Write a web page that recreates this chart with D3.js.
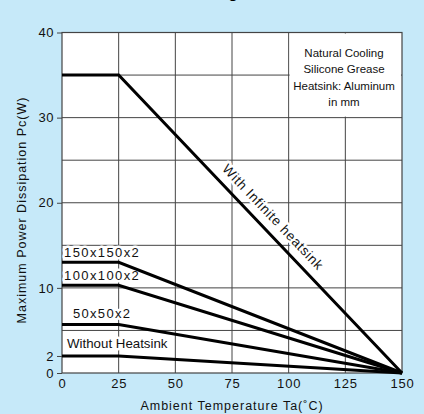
<!DOCTYPE html>
<html><head><meta charset="utf-8">
<script src="https://cdn.jsdelivr.net/npm/d3@7"></script>
<style>body{margin:0;background:#c6e9f9;} svg{display:block;font-family:"Liberation Sans",Arial,sans-serif;}</style>
</head><body><svg id="c" width="424" height="414"></svg>
<script>
const xTicks = [0,25,50,75,100,125,150];
const yTickLabels = [0,2,10,20,30,40];
const yGrid = [5,10,15,20,25,30,35];
const seriesNames = ["With Infinite heatsink","150x150x2","100x100x2","50x50x2","Without Heatsink"];
const seriesTemps = [0,25,150];
const infiniteVals = [35,35,0];
const hs150Vals = [13,13,0];
const hs100Vals = [10.3,10.3,0];
const hs50Vals = [5.7,5.7,0];
const noneVals = [2,2,0];
const noteLines = ["Natural Cooling","Silicone Grease","Heatsink: Aluminum","in mm"];

const svg = d3.select("#c");
const x = d3.scaleLinear().domain([0,150]).range([62,402]);
const y = d3.scaleLinear().domain([0,40]).range([373,32.5]);

svg.append("text").attr("x",238).attr("y",-2).attr("text-anchor","end")
  .attr("font-weight","bold").attr("font-size",16).text("Pc-Ta Derating");

svg.append("rect").attr("x",x(0)).attr("y",y(40)).attr("width",x(150)-x(0)).attr("height",y(0)-y(40)).attr("fill","#fff");

const grid = svg.append("g").attr("stroke","#444").attr("stroke-width",1);
xTicks.slice(1,-1).forEach(t=>grid.append("line").attr("x1",x(t)).attr("x2",x(t)).attr("y1",y(0)).attr("y2",y(40)));
yGrid.forEach(t=>grid.append("line").attr("x1",x(0)).attr("x2",x(150)).attr("y1",y(t)).attr("y2",y(t)));

// note box covering grid
svg.append("rect").attr("x",x(100)+1).attr("y",y(40)+1).attr("width",x(150)-x(100)-2).attr("height",y(30)-y(40)-2).attr("fill","#fff");
svg.append("g").selectAll("text").data(noteLines).join("text")
  .attr("x",344).attr("y",(d,i)=>57+i*16.3).attr("text-anchor","middle").attr("font-size",11.5).attr("fill","#111").text(d=>d);

svg.append("rect").attr("x",x(0)).attr("y",y(40)).attr("width",x(150)-x(0)).attr("height",y(0)-y(40)).attr("fill","none").attr("stroke","#444").attr("stroke-width",1.2);

// labels with white halo
function label(txt,px,py,opts={}){
  const t = svg.append("text").attr("x",px).attr("y",py).attr("font-size",opts.fs||13)
   .attr("letter-spacing",opts.ls||0).attr("fill","#111").text(txt)
   .attr("stroke","#fff").attr("stroke-width",5).attr("paint-order","stroke").attr("stroke-linejoin","round");
  if(opts.rot!==undefined) t.attr("transform",`rotate(${opts.rot},${px},${py})`);
  return t;
}
label(seriesNames[1],64,257,{ls:1.4});
label(seriesNames[2],64,280,{ls:1.4});
label(seriesNames[3],73,318,{ls:1.3});
label(seriesNames[4],67,348,{fs:13.3});
label(seriesNames[0],221.5,169.5,{fs:13.5,ls:0.7,rot:46.5});

const line = d3.line().x((d,i)=>x(seriesTemps[i])).y(d=>y(d));
[infiniteVals,hs150Vals,hs100Vals,hs50Vals,noneVals].forEach(v=>{
  svg.append("path").attr("d",line(v)).attr("fill","none").attr("stroke","#000").attr("stroke-width",3).attr("stroke-linejoin","miter");
});

const yAxis = d3.axisLeft(y).tickValues(yTickLabels).tickSize(5).tickPadding(3);
const ga = svg.append("g").attr("transform",`translate(${x(0)},0)`).call(yAxis);
ga.select(".domain").remove();
ga.selectAll("line").attr("stroke","#444");
ga.selectAll("text").attr("font-size",13).attr("font-family","Liberation Sans, Arial, sans-serif").attr("fill","#111").attr("letter-spacing",0.5);

const xAxis = d3.axisBottom(x).tickValues(xTicks).tickSize(0).tickPadding(6);
const gx = svg.append("g").attr("transform",`translate(0,${y(0)})`).call(xAxis);
gx.select(".domain").remove();
gx.selectAll("text").attr("font-size",13).attr("font-family","Liberation Sans, Arial, sans-serif").attr("fill","#111").attr("letter-spacing",0.8);

svg.append("text").attr("x",232).attr("y",410).attr("text-anchor","middle").attr("font-size",12.5).attr("letter-spacing",1).attr("fill","#111").text("Ambient Temperature Ta(˚C)");
svg.append("text").attr("transform","translate(26,210) rotate(-90)").attr("text-anchor","middle").attr("font-size",12.5).attr("letter-spacing",1).attr("fill","#111").text("Maximum Power Dissipation Pc(W)");
</script></body></html>
